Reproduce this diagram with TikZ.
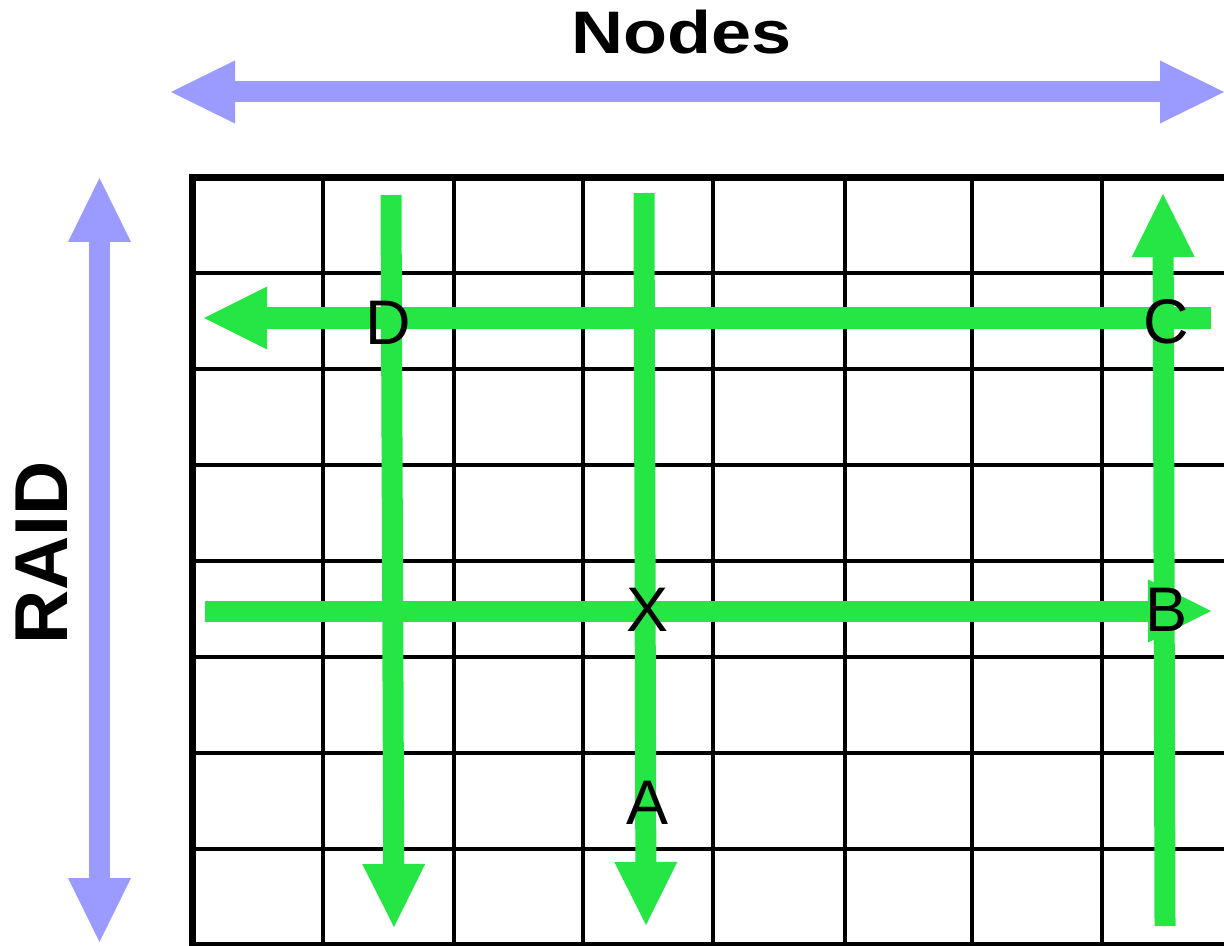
\documentclass[tikz,border=0pt]{standalone}
\usepackage{fontspec}
\setmainfont{Liberation Sans}
\usetikzlibrary{arrows.meta}
\definecolor{flowgreen}{RGB}{38,230,70}
\definecolor{axisblue}{RGB}{155,155,255}

\begin{document}
\begin{tikzpicture}[x=0.5pt,y=-0.5pt,
  gridline/.style={line width=2pt},
  border/.style={line width=3.2pt},
  flowtip/.tip={Triangle[width=31.5pt,length=31.5pt,line width=0pt]},
  axistip/.tip={Triangle[width=31.5pt,length=32pt,line width=0pt]},
  flow/.style={flowgreen, line width=10.5pt, -flowtip},
  axis/.style={axisblue, line width=10.5pt, axistip-axistip},
  letter/.style={inner sep=0pt, font=\fontsize{31.5}{32}\selectfont},
  title/.style={inner sep=0pt, font=\bfseries\fontsize{30}{32}\selectfont},
]
\useasboundingbox (0,0) rectangle (1224,946);
\clip (0,0) rectangle (1224,946);

% grid of cells
\foreach \x in {323,454,583,713,845,972,1102}
  \draw[gridline] (\x,177) -- (\x,950);
\foreach \y in {273,369,...,849}
  \draw[gridline] (189,\y) -- (1230,\y);
\draw[gridline] (189,944) -- (1230,944);
\draw[border] (192.5,174) -- (192.5,950);
\draw[line width=3.5pt] (189,177.5) -- (1230,177.5);

% end points of the flows
\coordinate (d-top) at (391,195);
\coordinate (d-bot) at (394,927);
\coordinate (x-top) at (644,193);
\coordinate (x-bot) at (646,925);
\coordinate (c-bot) at (1165,926);
\coordinate (c-top) at (1163,194);
\coordinate (row1-r) at (1211,318);
\coordinate (row1-l) at (204,318);
\coordinate (row2-l) at (205,611);
\coordinate (row2-r) at (1211,611);

% green flows
\draw[flow] (d-top) -- (d-bot);
\draw[flow] (x-top) -- (x-bot);
\draw[flow] (c-bot) -- (c-top);
\draw[flow] (row1-r) -- (row1-l);
\draw[flow] (row2-l) -- (row2-r);

% cell labels
\node[letter] (D) at (388.5,322.5) {D};
\node[letter] (X) at (647,610) {X};
\node[letter] (A) at (647,803) {A};
\node[letter] (B) at (1166,610) {B};
\node[letter] (C) at (1166,322) {C};

% axes
\coordinate (h-l) at (171,92);
\coordinate (h-r) at (1224,92);
\coordinate (v-t) at (99.5,178);
\coordinate (v-b) at (99.5,942);
\draw[axis] (h-l) -- (h-r);
\draw[axis] (v-t) -- (v-b);

\node[title] (nodes) at (682,32) {\scalebox{1.2}[1]{Nodes}};
\node[title, rotate=90, font=\bfseries\fontsize{37.5}{38}\selectfont] (raid) at (42,553) {RAID};
\end{tikzpicture}
\end{document}
